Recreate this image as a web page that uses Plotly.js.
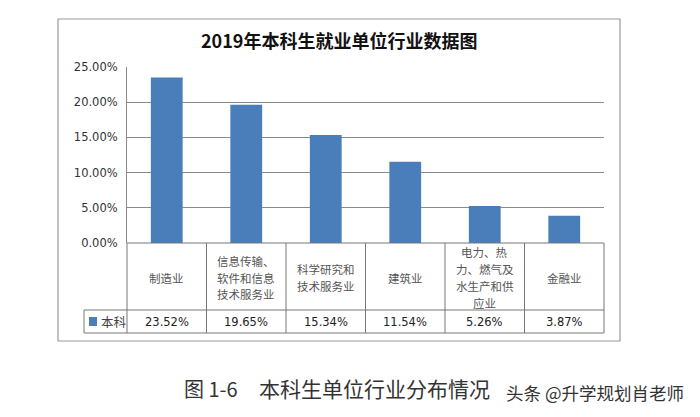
<!DOCTYPE html>
<html>
<head>
<meta charset="utf-8">
<script src="https://cdn.plot.ly/plotly-3.0.1.min.js"></script>
<style>html,body{margin:0;padding:0;background:#fff;}#chart{width:700px;height:417px;}</style>
</head>
<body>
<div id="chart"></div>
<script>
const categories = ["制造业", "信息传输、软件和信息技术服务业", "科学研究和技术服务业", "建筑业", "电力、热力、燃气及水生产和供应业", "金融业"];
const categoryLabelLines = [["制造业"], ["信息传输、", "软件和信息", "技术服务业"], ["科学研究和", "技术服务业"], ["建筑业"], ["电力、热", "力、燃气及", "水生产和供", "应业"], ["金融业"]];
const values = [0.2352, 0.1965, 0.1534, 0.1154, 0.0526, 0.0387];
const valueLabels = ["23.52%", "19.65%", "15.34%", "11.54%", "5.26%", "3.87%"];
const seriesName = "本科";
const yTicks = [0, 0.05, 0.10, 0.15, 0.20, 0.25];
const yTickLabels = ["0.00%", "5.00%", "10.00%", "15.00%", "20.00%", "25.00%"];
const chartTitle = "2019年本科生就业单位行业数据图";
const captionNumber = "图 1-6";
const captionText = "本科生单位行业分布情况";
const watermark = "头条 @升学规划肖老师";

const W = 700, H = 417;
const px = x => x / W;
const py = y => 1 - y / H;

const plotL = 127, plotR = 604, plotT = 67, plotB = 243;
const rowMid = 310, tableB = 333, legL = 84;
const blue = "#4a7ebb";
const lineGap = 16.9;

const shapes = [];
shapes.push({type: "rect", xref: "paper", yref: "paper", x0: px(58), x1: px(620), y0: py(19), y1: py(341), line: {color: "#9a9a9a", width: 1.2}});
shapes.push({type: "line", xref: "paper", yref: "paper", x0: px(plotL), x1: px(plotR), y0: py(plotB), y1: py(plotB), line: {color: "#777", width: 1}});
shapes.push({type: "line", xref: "paper", yref: "paper", x0: px(legL), x1: px(plotR), y0: py(rowMid), y1: py(rowMid), line: {color: "#777", width: 1}});
shapes.push({type: "line", xref: "paper", yref: "paper", x0: px(legL), x1: px(plotR), y0: py(tableB), y1: py(tableB), line: {color: "#777", width: 1}});
shapes.push({type: "line", xref: "paper", yref: "paper", x0: px(legL), x1: px(legL), y0: py(rowMid), y1: py(tableB), line: {color: "#777", width: 1}});
for (let i = 0; i <= categories.length; i++) {
  const x = plotL + (plotR - plotL) * i / categories.length;
  shapes.push({type: "line", xref: "paper", yref: "paper", x0: px(x), x1: px(x), y0: py(plotB), y1: py(tableB), line: {color: "#777", width: 1}});
}
shapes.push({type: "rect", xref: "paper", yref: "paper", x0: px(89), x1: px(97), y0: py(317), y1: py(326), fillcolor: blue, line: {width: 0}});

const annotations = [];
annotations.push({text: "<b>" + chartTitle + "</b>", xref: "paper", yref: "paper", x: px(339), y: py(40), showarrow: false, font: {family: "Noto Sans CJK SC", size: 18, color: "#111"}, xanchor: "center", yanchor: "middle"});
const rowCenter = (plotB + rowMid) / 2 + 1;
categories.forEach((c, i) => {
  const lines = categoryLabelLines[i];
  lines.forEach((t, k) => {
    const y = rowCenter + (k - (lines.length - 1) / 2) * lineGap;
    annotations.push({text: t, xref: "x", yref: "paper", x: c, y: py(y), showarrow: false, font: {family: "Noto Sans CJK SC", size: 11.5, color: "#555"}, xanchor: "center", yanchor: "middle"});
  });
  annotations.push({text: valueLabels[i], xref: "x", yref: "paper", x: c, y: py((rowMid + tableB) / 2), showarrow: false, font: {family: "DejaVu Sans", size: 11.5, color: "#222"}, xanchor: "center", yanchor: "middle"});
});
annotations.push({text: seriesName, xref: "paper", yref: "paper", x: px(99), y: py(321.5), showarrow: false, font: {family: "Noto Sans CJK SC", size: 12.5, color: "#444"}, xanchor: "left", yanchor: "middle"});
annotations.push({text: captionNumber, xref: "paper", yref: "paper", x: px(182), y: py(388), showarrow: false, font: {family: "Noto Sans CJK SC", size: 20, color: "#333"}, xanchor: "left", yanchor: "middle"});
annotations.push({text: captionText, xref: "paper", yref: "paper", x: px(257), y: py(388), showarrow: false, font: {family: "Noto Sans CJK SC", size: 21, color: "#333"}, xanchor: "left", yanchor: "middle"});
annotations.push({text: watermark, xref: "paper", yref: "paper", x: px(504), y: py(392), showarrow: false, font: {family: "Noto Sans CJK SC", size: 17.5, color: "#333", shadow: "1px 1px 1px #fff"}, xanchor: "left", yanchor: "middle"});

const trace = {
  type: "bar", x: categories, y: values, name: seriesName,
  marker: {color: blue, line: {width: 0}},
  hoverinfo: "none"
};

const layout = {
  width: W, height: H,
  margin: {l: 0, r: 0, t: 0, b: 0},
  paper_bgcolor: "#fff", plot_bgcolor: "rgba(0,0,0,0)",
  showlegend: false,
  bargap: 0.6,
  xaxis: {domain: [px(plotL), px(plotR)], showticklabels: false, showgrid: false, zeroline: false, showline: false, ticks: "", automargin: false, fixedrange: true},
  yaxis: {domain: [py(plotB), py(plotT)], range: [0, 0.25], tickvals: yTicks, ticktext: yTickLabels,
    showgrid: true, gridcolor: "#8a8a8a", gridwidth: 1, zeroline: false, showline: true, linecolor: "#8a8a8a", linewidth: 1,
    ticks: "", ticklabelstandoff: 6, tickfont: {family: "DejaVu Sans", size: 11.5, color: "#333"}, automargin: false, fixedrange: true},
  shapes: shapes,
  annotations: annotations
};

Plotly.newPlot("chart", [trace], layout, {displayModeBar: false, staticPlot: true});
</script>
</body>
</html>
